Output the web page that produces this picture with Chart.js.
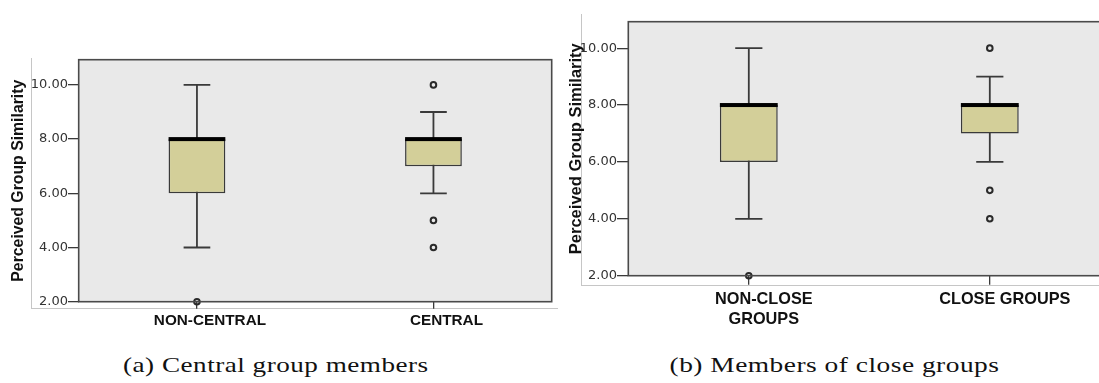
<!DOCTYPE html>
<html>
<head>
<meta charset="utf-8">
<script src="https://cdn.jsdelivr.net/npm/chart.js@4.4.1/dist/chart.umd.min.js"></script>
<style>
html,body{margin:0;padding:0;background:#fff;}
body{width:1099px;height:383px;overflow:hidden;position:relative;}
canvas{position:absolute;top:0;}
.frame{position:absolute;border-color:#c6c6c6;border-style:solid;border-width:0 0 1.5px 1.5px;}
.cap{position:absolute;white-space:nowrap;font-family:'Liberation Serif',serif;font-size:22px;line-height:22px;color:#111;transform-origin:50% 50%;}
</style>
</head>
<body>
<div class="frame" style="left:31px;top:58px;width:525.5px;height:249.5px"></div>
<div class="frame" style="left:581px;top:14px;width:560px;height:271.3px"></div>
<canvas id="chartA" width="560" height="345" style="left:0px"></canvas>
<canvas id="chartB" width="560" height="330" style="left:560px"></canvas>
<span class="cap" id="capA"></span>
<span class="cap" id="capB"></span>
<script>
// ---- data ----
const categoriesA = ['NON-CENTRAL', 'CENTRAL'];
const categoriesB = [['NON-CLOSE', 'GROUPS'], 'CLOSE GROUPS'];
const q1Values = [6, 7];
const q3Values = [8, 8];
const medianValues = [8, 8];
const whiskerLow = [4, 6];
const whiskerHigh = [10, 9];
const outlierValues = [[2], [10, 5, 4]];
const yTickValues = [2, 4, 6, 8, 10];
const yMin = 2;
const yMax = 10.93;
const yTitle = 'Perceived Group Similarity';
const captions = ['(a) Central group members', '(b) Members of close groups'];

// ---- style ----
const PLOT_BG = '#e9e9e9';
const BOX_FILL = '#d3cf99';
const LINE = '#3a3a3a';

const boxPlugin = {
  id: 'boxParts',
  beforeDraw(chart) {
    const a = chart.chartArea, c = chart.ctx;
    c.save();
    c.fillStyle = PLOT_BG;
    c.fillRect(a.left, a.top, a.right - a.left, a.bottom - a.top);
    c.restore();
  },
  beforeDatasetsDraw(chart) {
    const c = chart.ctx, y = chart.scales.y;
    const bars = chart.getDatasetMeta(0).data;
    c.save();
    c.strokeStyle = LINE;
    c.lineWidth = 1.8;
    bars.forEach((b, i) => {
      const yl = y.getPixelForValue(whiskerLow[i]);
      const yh = y.getPixelForValue(whiskerHigh[i]);
      const cw = b.width * 0.47;
      c.beginPath();
      c.moveTo(b.x, yl); c.lineTo(b.x, yh);
      c.moveTo(b.x - cw / 2, yl); c.lineTo(b.x + cw / 2, yl);
      c.moveTo(b.x - cw / 2, yh); c.lineTo(b.x + cw / 2, yh);
      c.stroke();
    });
    c.restore();
  },
  afterDatasetsDraw(chart) {
    const c = chart.ctx, y = chart.scales.y, a = chart.chartArea;
    const bars = chart.getDatasetMeta(0).data;
    c.save();
    c.fillStyle = '#000';
    bars.forEach((b, i) => {
      const ym = y.getPixelForValue(medianValues[i]);
      c.fillRect(b.x - b.width / 2, ym - 2, b.width, 4);
    });
    c.strokeStyle = '#4a4a4a';
    c.lineWidth = 1.6;
    c.strokeRect(a.left, a.top, a.right - a.left, a.bottom - a.top);
    c.restore();
  }
};

function makeChart(id, categories, L) {
  const maxOut = Math.max(...outlierValues.map(o => o.length));
  const outlierSets = [];
  for (let k = 0; k < maxOut; k++) {
    outlierSets.push({
      type: 'line',
      data: categories.map((c, i) => outlierValues[i][k] !== undefined ? outlierValues[i][k] : null),
      showLine: false,
      pointRadius: 2.8,
      pointBorderWidth: 2,
      pointBorderColor: '#2a2a2a',
      pointBackgroundColor: 'rgba(0,0,0,0)',
      clip: false
    });
  }
  return new Chart(document.getElementById(id), {
    type: 'bar',
    data: {
      labels: categories,
      datasets: [{
        type: 'bar',
        data: categories.map((c, i) => [q1Values[i], q3Values[i]]),
        backgroundColor: BOX_FILL,
        borderColor: LINE,
        borderWidth: 1.5,
        borderSkipped: false,
        barPercentage: 0.24,
        categoryPercentage: 1
      }].concat(outlierSets)
    },
    plugins: [boxPlugin],
    options: {
      responsive: false,
      animation: false,
      devicePixelRatio: 1,
      layout: { padding: { left: 0, top: L.top, right: L.right, bottom: 0 } },
      plugins: { legend: { display: false }, tooltip: { enabled: false } },
      scales: {
        x: {
          type: 'category',
          offset: true,
          grid: { display: true, drawOnChartArea: false, drawTicks: true, tickLength: L.xTick, offset: false, color: LINE, lineWidth: 1.3 },
          border: { display: false },
          ticks: {
            font: { family: "'Liberation Sans', Arial, sans-serif", size: L.xFont, weight: 'bold' },
            color: '#111', padding: L.xPad, labelOffset: L.labelOffset, maxRotation: 0, autoSkip: false
          },
          afterFit(s) { s.height = L.xHeight; }
        },
        y: {
          type: 'linear',
          min: yMin,
          max: yMax,
          afterBuildTicks(s) { s.ticks = yTickValues.map(v => ({ value: v })); },
          grid: { display: true, drawOnChartArea: false, drawTicks: true, tickLength: L.yTick, color: LINE, lineWidth: 1.3 },
          border: { display: false },
          ticks: {
            font: { family: "'DejaVu Sans', sans-serif", size: 13 },
            color: '#333', padding: 0,
            callback: v => Number(v).toFixed(2)
          },
          title: {
            display: true, text: yTitle, color: '#111',
            font: { family: "'Liberation Sans', Arial, sans-serif", size: L.titleFont, weight: 'bold' },
            padding: { top: L.titlePad, bottom: 0 }
          },
          afterFit(s) { s.width = L.yWidth; }
        }
      }
    }
  });
}

makeChart('chartA', categoriesA, {
  top: 59.7, right: 8.3, xHeight: 43.3, yWidth: 78.7, xTick: 7, yTick: 10.7,
  xFont: 15.3, xPad: 3, labelOffset: 13, titleFont: 15.8, titlePad: 8.8
});
makeChart('chartB', categoriesB, {
  top: 21.7, right: 9.7, xHeight: 54.3, yWidth: 68.3, xTick: 9, yTick: 11.3,
  xFont: 16.3, xPad: 5.5, labelOffset: 15, titleFont: 16.5, titlePad: 6.8
});

function placeCaption(id, text, cx, baseline, width) {
  const el = document.getElementById(id);
  el.textContent = text;
  el.style.letterSpacing = '0.4px';
  const w = el.offsetWidth;
  el.style.left = (cx - w / 2) + 'px';
  el.style.top = (baseline - 18.4) + 'px';
  el.style.transform = 'scaleX(' + (width / w) + ')';
}
placeCaption('capA', captions[0], 275.5, 372.3, 306);
placeCaption('capB', captions[1], 834, 372.3, 330);
</script>
</body>
</html>
